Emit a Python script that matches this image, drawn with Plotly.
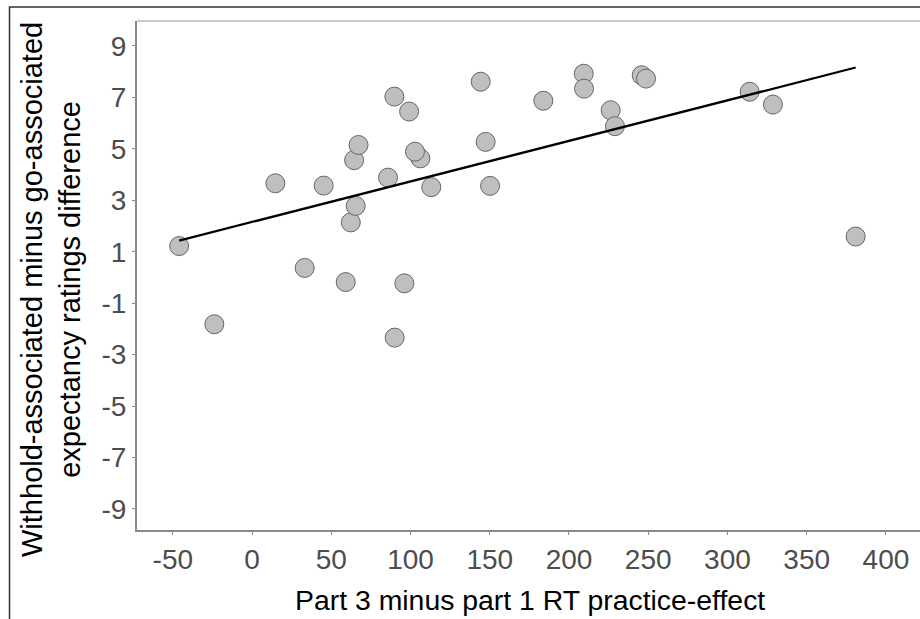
import plotly.graph_objects as go

# Data
rt_effect = [-46, -23.8, 14.7, 33.2, 45.2, 59.1, 62.3, 65.4, 64.4, 67.2,
             90.0, 96.1, 85.8, 106.2, 102.8, 113.1, 150.2, 89.8, 99.1, 144.3,
             147.4, 183.8, 209.3, 209.5, 226.3, 229.0, 245.9, 248.6, 314.0, 328.7,
             380.9]
rating_diff = [1.22, -1.82, 3.66, 0.37, 3.57, -0.18, 2.14, 2.78, 4.56, 5.15,
               -2.34, -0.23, 3.88, 4.63, 4.89, 3.51, 3.56, 7.03, 6.45, 7.61,
               5.27, 6.87, 7.92, 7.34, 6.50, 5.88, 7.86, 7.73, 7.22, 6.72,
               1.59]
fit_x = [-46, 380.9]
fit_y = [1.43, 8.16]

x_ticks = [-50, 0, 50, 100, 150, 200, 250, 300, 350, 400]
y_ticks = [-9, -7, -5, -3, -1, 1, 3, 5, 7, 9]

x_title = "Part 3 minus part 1 RT practice-effect"
y_title = "Withhold-associated minus go-associated<br>expectancy ratings difference"

W, H = 920, 619
L, R, T, B = 137, 0, 21, 89
pw, ph = W - L - R, H - T - B

def px(xp):
    return (xp - L) / pw

def py(yp):
    return (H - B - yp) / ph

fig = go.Figure()
fig.add_trace(go.Scatter(
    x=rt_effect, y=rating_diff, mode="markers",
    marker=dict(size=19, color="#bfbfbf", line=dict(color="#666666", width=1)),
    showlegend=False, hoverinfo="skip"))
fig.add_trace(go.Scatter(
    x=fit_x, y=fit_y, mode="lines",
    line=dict(color="black", width=2.2),
    showlegend=False, hoverinfo="skip"))

axis_font = dict(family="Liberation Sans, Arial, sans-serif", size=28, color="#4d4d4d")
fig.update_layout(
    width=W, height=H,
    margin=dict(l=L, r=R, t=T, b=B, pad=0),
    paper_bgcolor="white", plot_bgcolor="white",
    xaxis=dict(range=[-72.6, 421.5], tickvals=x_ticks, ticktext=[str(v) for v in x_ticks],
               showgrid=False, zeroline=False, showline=True, linecolor="#8a8a8a", linewidth=2,
               ticks="outside", ticklen=3, tickcolor="#8a8a8a", tickwidth=1,
               tickfont=axis_font),
    yaxis=dict(range=[-9.82, 9.97], tickvals=y_ticks, ticktext=[str(v) for v in y_ticks],
               showgrid=False, zeroline=False, showline=True, linecolor="#8a8a8a", linewidth=2,
               ticks="outside", ticklen=3, tickcolor="#8a8a8a", tickwidth=1,
               tickfont=axis_font),
    shapes=[
        dict(type="line", xref="paper", yref="paper", x0=0, x1=1.01, y0=1, y1=1,
             line=dict(color="#cccccc", width=2)),
        dict(type="path", xref="paper", yref="paper",
             path=f"M {px(9.5)} {py(640)} L {px(9.5)} {py(7)} L {px(930)} {py(7)}",
             line=dict(color="#333333", width=1.5)),
    ],
    annotations=[
        dict(text=y_title, xref="paper", yref="paper", x=px(51), y=py(290),
             xanchor="center", yanchor="middle", textangle=-90, showarrow=False,
             font=dict(family="Liberation Sans, Arial, sans-serif", size=29, color="black")),
        dict(text=x_title, xref="paper", yref="paper", x=px(530), y=py(600),
             xanchor="center", yanchor="middle", showarrow=False,
             font=dict(family="Liberation Sans, Arial, sans-serif", size=28.4, color="black")),
    ],
)

fig.write_html("out.html")
